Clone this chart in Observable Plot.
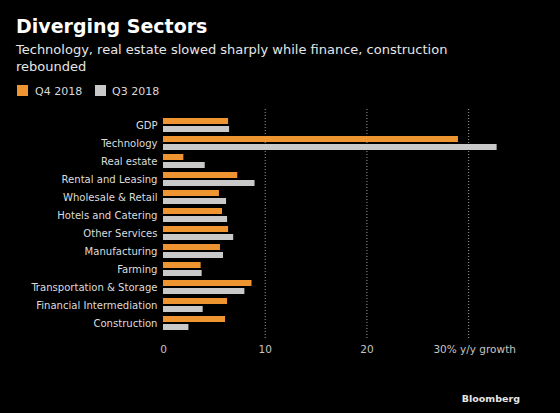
<!DOCTYPE html>
<html><head><meta charset="utf-8">
<script src="https://cdn.jsdelivr.net/npm/d3@7"></script>
<script src="https://cdn.jsdelivr.net/npm/@observablehq/plot@0.6"></script>
<style>
html,body{margin:0;padding:0;background:#000;}
#wrap{position:relative;width:560px;height:413px;background:#000;font-family:"DejaVu Sans",sans-serif;overflow:hidden}
#head{position:relative;height:105px}
.t{position:absolute;left:16px;top:17px;font-size:19px;line-height:19px;font-weight:bold;color:#fff;white-space:nowrap}
.s{position:absolute;left:16px;top:42px;font-size:13px;line-height:16.5px;color:#e6e6e6;white-space:nowrap}
.sw{position:absolute;top:85px;width:11px;height:11px}
.lt{position:absolute;top:86px;font-size:11px;line-height:11px;color:#d9d9d9;white-space:nowrap}
#chart{position:absolute;left:0;top:105px}
#foot{position:absolute;right:40px;top:394px;font-size:9.5px;line-height:9.5px;font-weight:bold;color:#e6e6e6}
</style></head>
<body>
<div id="wrap">
  <div id="head">
    <div class="t">Diverging Sectors</div>
    <div class="s">Technology, real estate slowed sharply while finance, construction<br>rebounded</div>
    <div class="sw" id="sw0" style="left:17px"></div>
    <div class="lt" id="lt0" style="left:35px"></div>
    <div class="sw" id="sw1" style="left:95px"></div>
    <div class="lt" id="lt1" style="left:112px"></div>
  </div>
  <div id="chart"></div>
  <div id="foot">Bloomberg</div>
</div>
<script>
const categories = ["GDP","Technology","Real estate","Rental and Leasing","Wholesale & Retail","Hotels and Catering","Other Services","Manufacturing","Farming","Transportation & Storage","Financial Intermediation","Construction"];
const q4 = [6.4, 29.0, 2.0, 7.3, 5.5, 5.8, 6.4, 5.6, 3.7, 8.7, 6.3, 6.1];
const q3 = [6.5, 32.8, 4.1, 9.0, 6.2, 6.3, 6.9, 5.9, 3.8, 8.0, 3.9, 2.5];
const series = ["Q4 2018", "Q3 2018"];
const colors = ["#ee9430", "#c9c9c9"];
const xTicks = [0, 10, 20];
const lastTick = [30];
const gridTicks = [10, 20, 30];

series.forEach((s, i) => {
  document.getElementById("sw" + i).style.background = colors[i];
  document.getElementById("lt" + i).textContent = s;
});

const rows = categories.map((c, i) => ({category: c, q4: q4[i], q3: q3[i]}));

const chart = Plot.plot({
  width: 560, height: 265,
  marginLeft: 163, marginRight: 41, marginTop: 8, marginBottom: 34,
  style: {background: "#000", color: "#d9d9d9", fontFamily: "DejaVu Sans", fontSize: "10.5px"},
  x: {domain: [0, 35]},
  y: {domain: categories, paddingInner: 0.206, paddingOuter: 0},
  marks: [
    Plot.ruleX(gridTicks, {stroke: "#9a9a9a", strokeDasharray: "1,2", insetTop: -4, insetBottom: -2}),
    Plot.barX(rows, {y: "category", x1: 0, x2: "q4", fill: colors[0], insetBottom: 8}),
    Plot.barX(rows, {y: "category", x1: 0, x2: "q3", fill: colors[1], insetTop: 8}),
    Plot.axisY({tickSize: 0, tickPadding: 6, label: null, fontSize: 11.2, fontFamily: "DejaVu Sans Condensed", fill: "#dcdcdc"}),
    Plot.axisX({ticks: xTicks, tickSize: 0, tickPadding: 9, label: null, fontSize: 10.5, fill: "#c4c4c4", tickFormat: d => String(d)}),
    Plot.axisX({ticks: lastTick, tickSize: 0, tickPadding: 9, label: null, fontSize: 10.5, fill: "#c4c4c4", dx: 6, tickFormat: d => d + "% y/y growth"})
  ]
});
document.getElementById("chart").appendChild(chart);
</script>
</body></html>
